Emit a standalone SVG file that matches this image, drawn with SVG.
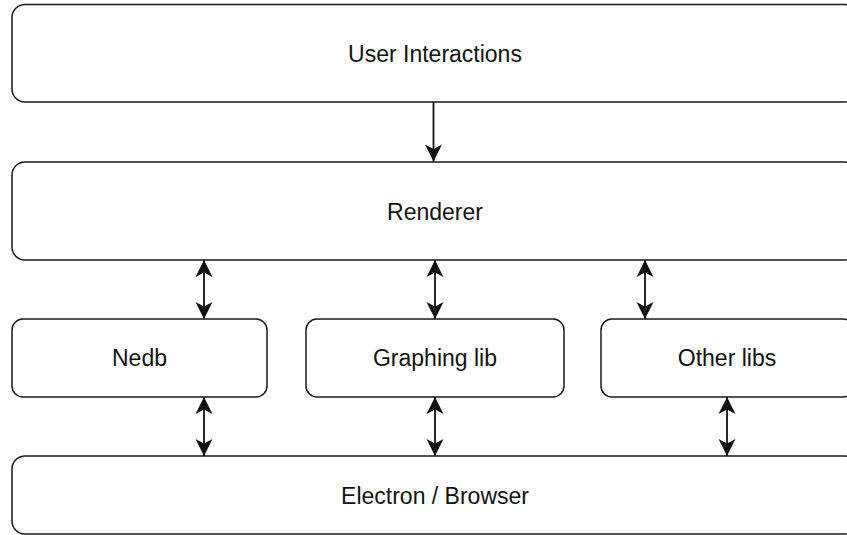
<svg xmlns="http://www.w3.org/2000/svg" width="847" height="535" viewBox="0 0 847 535">
<style>
.box{fill:#ffffff;stroke:#1a1a1a;stroke-width:1.5}
.lbl{font-family:"Liberation Sans",Arial,Helvetica,sans-serif;font-size:23px;fill:#111;text-anchor:middle;dominant-baseline:central}
.con{stroke:#111;stroke-width:1.8;fill:none}
</style>
<defs>
<marker id="ah" viewBox="-19 -10 20 20" markerWidth="20" markerHeight="20" refX="0" refY="0" markerUnits="userSpaceOnUse" orient="auto-start-reverse">
<path d="M0,0 L-17,-8.5 L-12.5,0 L-17,8.5 Z" fill="#111"/>
</marker>
</defs>
<rect width="847" height="535" fill="#ffffff"/>
<g id="user-interactions">
<rect class="box" x="12" y="4.5" width="846" height="97.5" rx="13"/>
<text class="lbl" x="435" y="54">User Interactions</text>
</g>
<g id="renderer">
<rect class="box" x="12" y="162" width="846" height="98" rx="13"/>
<text class="lbl" x="435" y="212">Renderer</text>
</g>
<g id="nedb">
<rect class="box" x="12" y="319" width="255" height="78" rx="11"/>
<text class="lbl" x="139.5" y="358">Nedb</text>
</g>
<g id="graphing-lib">
<rect class="box" x="306" y="319" width="258" height="78" rx="11"/>
<text class="lbl" x="435" y="358">Graphing lib</text>
</g>
<g id="other-libs">
<rect class="box" x="601" y="319" width="253" height="78" rx="11"/>
<text class="lbl" x="727" y="358">Other libs</text>
</g>
<g id="electron-browser">
<rect class="box" x="12" y="456" width="846" height="78" rx="13"/>
<text class="lbl" x="435" y="496">Electron / Browser</text>
</g>
<g id="connectors">
<line class="con" x1="433.5" y1="102" x2="433.5" y2="161.5" marker-end="url(#ah)"/>
<line class="con" x1="204" y1="260" x2="204" y2="319" marker-start="url(#ah)" marker-end="url(#ah)"/>
<line class="con" x1="435" y1="260" x2="435" y2="319" marker-start="url(#ah)" marker-end="url(#ah)"/>
<line class="con" x1="645" y1="260" x2="645" y2="319" marker-start="url(#ah)" marker-end="url(#ah)"/>
<line class="con" x1="204" y1="397" x2="204" y2="456" marker-start="url(#ah)" marker-end="url(#ah)"/>
<line class="con" x1="435" y1="397" x2="435" y2="456" marker-start="url(#ah)" marker-end="url(#ah)"/>
<line class="con" x1="727" y1="397" x2="727" y2="456" marker-start="url(#ah)" marker-end="url(#ah)"/>
</g>
</svg>
